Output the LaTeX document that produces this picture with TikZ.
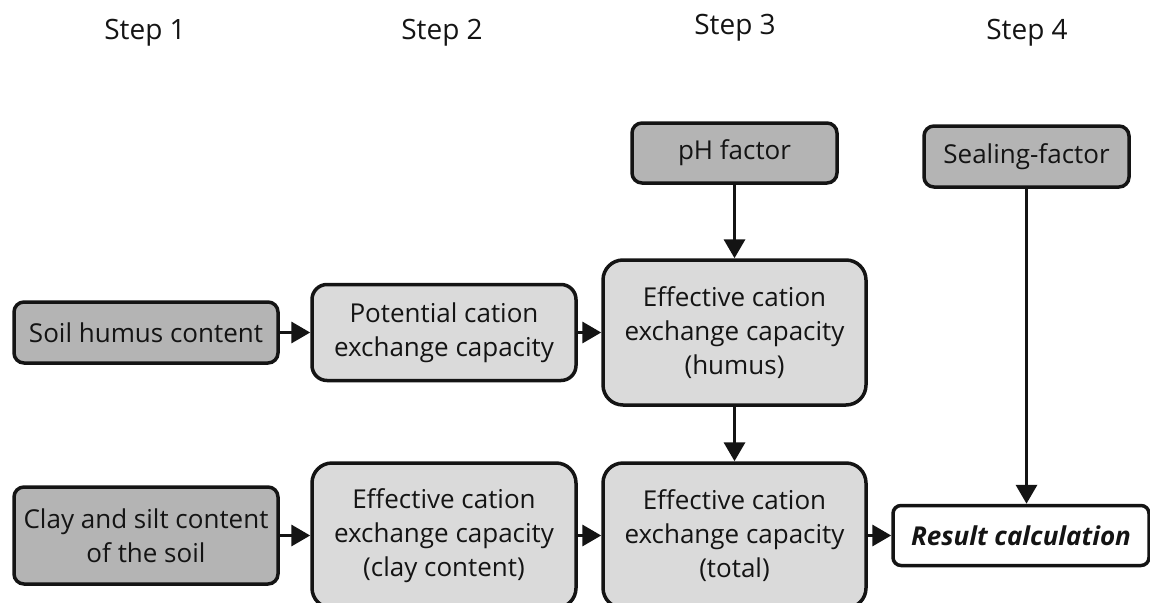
\documentclass[tikz,border=0pt]{standalone}
\usepackage{fontspec}
\setmainfont{Open Sans}
\usetikzlibrary{arrows.meta, positioning}
\definecolor{GrisFonce}{RGB}{180,180,180}
\definecolor{GrisClair}{RGB}{218,218,218}
\definecolor{Trait}{RGB}{20,20,20}
\tikzset{entree/.style={rectangle, rounded corners=10pt,
  draw=Trait, fill=GrisFonce, line width=3.5pt, text=Trait,
  align=center, inner sep=0pt, minimum width=264pt, minimum height=61pt,
  font=\fontsize{26}{34}\selectfont}}
\tikzset{etape/.style={entree, fill=GrisClair, rounded corners=15pt, minimum height=96pt}}
\tikzset{grand/.style={etape, rounded corners=20pt, minimum width=263pt, minimum height=145pt}}
\tikzset{resultat/.style={entree, fill=white, rounded corners=8pt,
  minimum width=256pt, minimum height=60pt, font=\fontsize{26}{34}\selectfont\bfseries\itshape}}
\tikzset{titre/.style={font=\fontsize{28}{30}\selectfont, text=Trait, inner sep=0pt}}
\tikzset{fl/.style={-{Triangle[length=19pt, width=21pt]}, draw=Trait, line width=3.5pt}}

\begin{document}
\begin{tikzpicture}[x=1pt, y=-1pt, node distance=30.5pt and 30.5pt]
\useasboundingbox (0,0) rectangle (1150,602);
\clip (0,0) rectangle (1150,602);
\node[titre] (s1) at (145,33) {Step 1};
\node[titre] (s2) at (442,33) {Step 2};
\node[titre] (s3) at (735,28) {Step 3};
\node[titre] (s4) at (1027,33) {Step 4};
\node[entree] (humus) at (146,332.5) {Soil humus content};
\node[etape, right=30.5pt of humus] (pot) {Potential cation\\exchange capacity};
\node[grand, right=23.5pt of pot] (ecah) {Effective cation\\exchange capacity\\(humus)};
\node[entree, above=73.5pt of ecah, minimum width=205pt, minimum height=60pt] (ph) {pH factor};
\node[grand, below=54.5pt of ecah] (ecat) {Effective cation\\exchange capacity\\(total)};
\node[grand, left=23.5pt of ecat, minimum width=264pt] (ecac) {Effective cation\\exchange capacity\\(clay content)};
\node[entree, left=30.5pt of ecac, minimum height=97pt] (clay) {Clay and silt content\\of the soil};
\node[resultat, right=23.5pt of ecat] (res) {Result calculation};
\node[entree, minimum width=205pt, minimum height=61pt] (seal) at (1026.5,156.5) {Sealing-factor};
\draw[fl] (humus)--(pot); \draw[fl] (pot)--(ecah);
\draw[fl] (clay)--(ecac); \draw[fl] (ecac)--(ecat);
\draw[fl] (ecat)--(res);
\draw[fl] (ph)--(ecah); \draw[fl] (ecah)--(ecat);
\draw[fl] (seal.south) -- (seal.south |- res.north);
\end{tikzpicture}
\end{document}
